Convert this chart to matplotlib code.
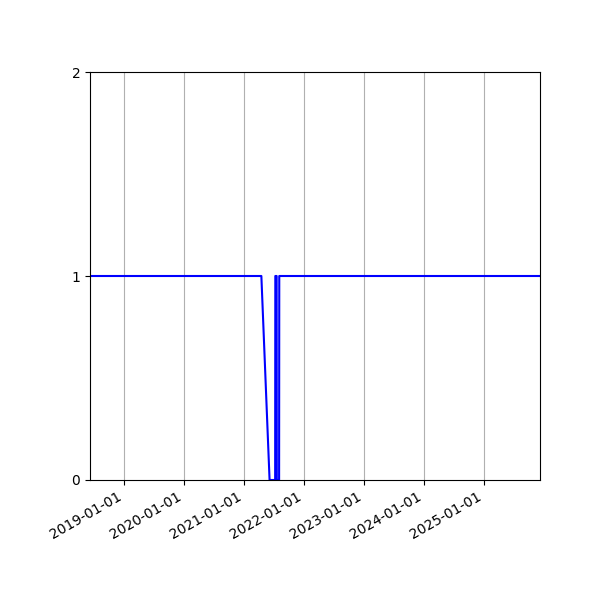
import numpy as np
import matplotlib
matplotlib.use("Agg")
import matplotlib.pyplot as plt
import matplotlib.dates as mdates

# status series: 1 = up, 0 = down
dates = ["2018-06-08", "2021-04-16", "2021-06-05", "2021-07-09", "2021-07-10",
         "2021-07-18", "2021-07-19", "2021-08-02", "2021-08-03", "2025-12-07"]
values = [1, 1, 0, 0, 1, 1, 0, 0, 1, 1]
yticks = [0, 1, 2]

x = np.array(dates, dtype="datetime64[D]")

fig, ax = plt.subplots(figsize=(6, 6), dpi=100)
fig.subplots_adjust(left=0.15, right=0.9, top=0.88, bottom=0.2)
ax.plot(x, values, color="blue", lw=1.5)
ax.set_xlim(x[0], x[-1])
ax.set_ylim(0, 2)
ax.set_yticks(yticks)
ax.xaxis.set_major_locator(mdates.YearLocator())
ax.xaxis.set_major_formatter(mdates.DateFormatter("%Y-%m-%d"))
ax.grid(axis="x")
for lbl in ax.get_xticklabels():
    lbl.set_rotation(30)
    lbl.set_ha("right")

fig.savefig("out.png", dpi=100)
